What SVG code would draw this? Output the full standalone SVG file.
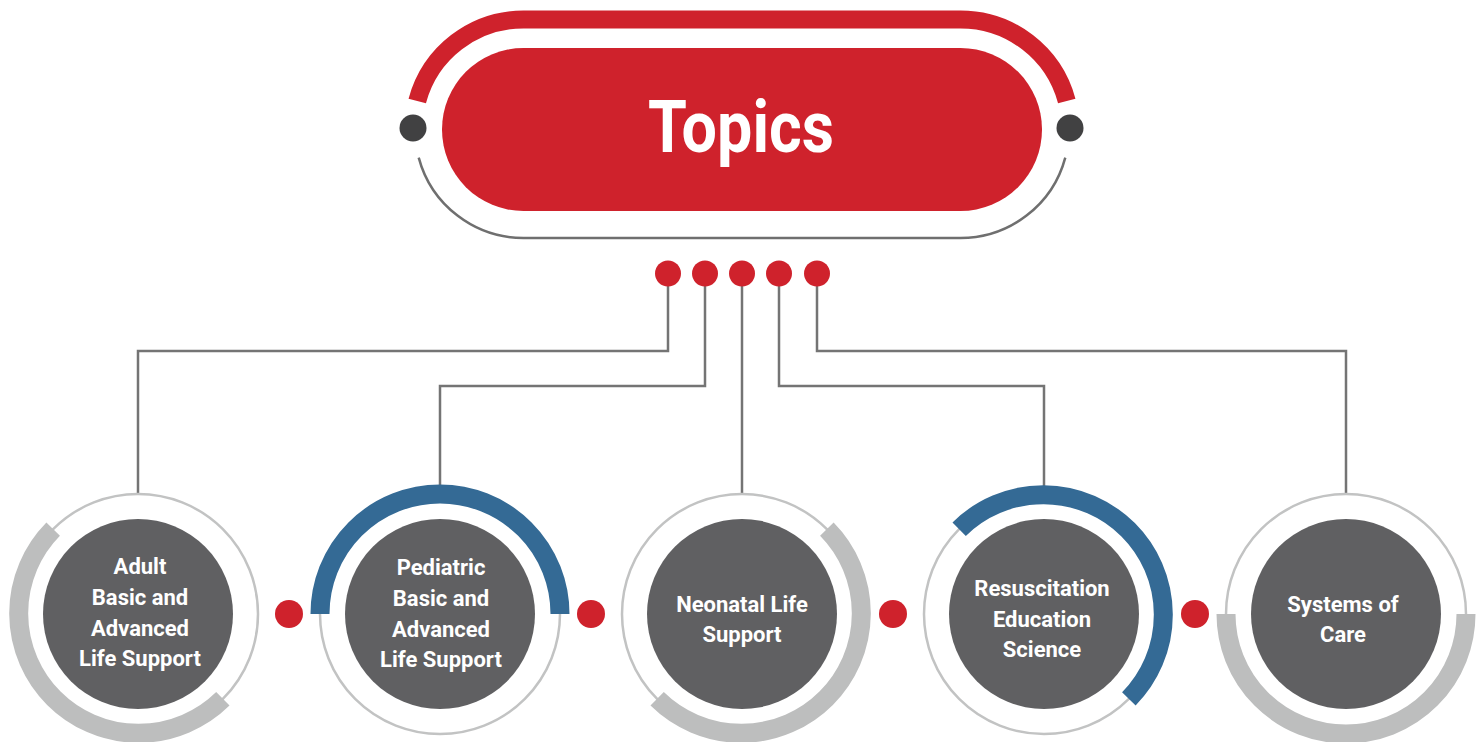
<svg xmlns="http://www.w3.org/2000/svg" width="1481" height="742" viewBox="0 0 1481 742">
<style>
.conn{fill:none;stroke:#747474;stroke-width:2.5}
.reddot{fill:#cf222c}
.ring{fill:none;stroke:#c2c3c3;stroke-width:2.5}
.core{fill:#606062}
.garc{fill:none;stroke:#bdbebe;stroke-width:19}
.barc{fill:none;stroke:#346a95;stroke-width:19}
.lbl{font-family:Roboto,"Liberation Sans",sans-serif;font-weight:700;font-size:22px;fill:#ffffff;text-anchor:middle}
</style>
<rect width="1481" height="742" fill="#ffffff"/>
<g id="connectors">
<path class="conn" d="M668 273 V351 H138 V494"/>
<path class="conn" d="M705 273 V386 H440 V494"/>
<path class="conn" d="M742 273 V494"/>
<path class="conn" d="M779 273 V386 H1044 V494"/>
<path class="conn" d="M817 273 V351 H1346 V494"/>
</g>
<g id="topics">
<path d="M417.25 101.03 A110 110 0 0 1 523.5 19.5 H960.5 A110 110 0 0 1 1066.75 101.03" fill="none" stroke="#cf222c" stroke-width="18"/>
<path d="M418.7 157.6 A108.5 108.5 0 0 0 523.5 238 H960.5 A108.5 108.5 0 0 0 1065.3 157.6" fill="none" stroke="#6f6f6f" stroke-width="2.5"/>
<circle cx="413" cy="128" r="13.5" fill="#414142"/>
<circle cx="1070" cy="128" r="13.5" fill="#414142"/>
<rect x="442" y="48" width="600" height="163" rx="81.5" ry="81.5" fill="#cf222c"/>
<text x="741" y="152" font-family="Roboto,'Liberation Sans',sans-serif" font-weight="700" font-size="72" fill="#ffffff" text-anchor="middle" textLength="186" lengthAdjust="spacingAndGlyphs">Topics</text>
</g>
<g id="top-dots">
<circle class="reddot" cx="668" cy="273.5" r="13"/>
<circle class="reddot" cx="705" cy="273.5" r="13"/>
<circle class="reddot" cx="742" cy="273.5" r="13"/>
<circle class="reddot" cx="779" cy="273.5" r="13"/>
<circle class="reddot" cx="817" cy="273.5" r="13"/>
</g>
<g id="node-adult">
<circle class="ring" cx="138" cy="614" r="120"/>
<path class="garc" d="M53.15 529.15 A120 120 0 0 0 222.85 698.85"/>
<circle class="core" cx="138" cy="614" r="95"/>
<text class="lbl" x="140" y="574">Adult</text>
<text class="lbl" x="140" y="605">Basic and</text>
<text class="lbl" x="140" y="636">Advanced</text>
<text class="lbl" x="140" y="666">Life Support</text>
</g>
<g id="node-pediatric">
<circle class="ring" cx="440" cy="614" r="120"/>
<path class="barc" d="M320 614 A120 120 0 0 1 560 614"/>
<circle class="core" cx="440" cy="614" r="95"/>
<text class="lbl" x="441" y="575">Pediatric</text>
<text class="lbl" x="441" y="606">Basic and</text>
<text class="lbl" x="441" y="637">Advanced</text>
<text class="lbl" x="441" y="667">Life Support</text>
</g>
<g id="node-neonatal">
<circle class="ring" cx="742" cy="614" r="120"/>
<path class="garc" d="M826.85 529.15 A120 120 0 0 1 657.15 698.85"/>
<circle class="core" cx="742" cy="614" r="95"/>
<text class="lbl" x="742" y="612">Neonatal Life</text>
<text class="lbl" x="742" y="642">Support</text>
</g>
<g id="node-resuscitation">
<circle class="ring" cx="1044" cy="614" r="120"/>
<path class="barc" d="M959.15 529.15 A120 120 0 0 1 1128.85 698.85"/>
<circle class="core" cx="1044" cy="614" r="95"/>
<text class="lbl" x="1042" y="596">Resuscitation</text>
<text class="lbl" x="1042" y="627">Education</text>
<text class="lbl" x="1042" y="657">Science</text>
</g>
<g id="node-systems">
<circle class="ring" cx="1346" cy="614" r="120"/>
<path class="garc" d="M1226 614 A120 120 0 0 0 1466 614"/>
<circle class="core" cx="1346" cy="614" r="95"/>
<text class="lbl" x="1343" y="612">Systems of</text>
<text class="lbl" x="1343" y="642">Care</text>
</g>
<g id="mid-dots">
<circle class="reddot" cx="289" cy="614" r="14"/>
<circle class="reddot" cx="591" cy="614" r="14"/>
<circle class="reddot" cx="893" cy="614" r="14"/>
<circle class="reddot" cx="1195" cy="614" r="14"/>
</g>
</svg>
